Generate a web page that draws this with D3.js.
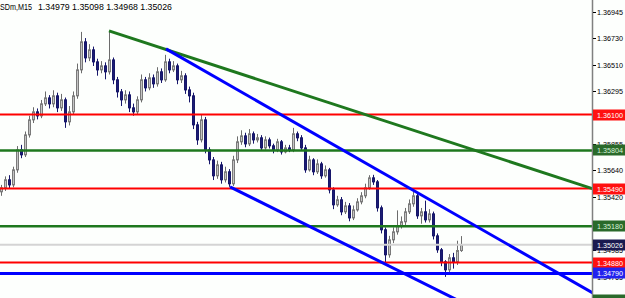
<!DOCTYPE html>
<html>
<head>
<meta charset="utf-8">
<script src="https://cdn.jsdelivr.net/npm/d3@7"></script>
<style>
  body { margin: 0; background: #fff; }
  svg { display: block; font-family: "Liberation Sans", Arial, sans-serif; }
</style>
</head>
<body>
<div id="chart"></div>
<script>
const width = 625,
  height = 298;
const plotRight = 592;

// header, last bar O H L C
const symbol = 'SDm,M15';
const lastQuote = ['1.34979', '1.35098', '1.34968', '1.35026'];

// M15 bars, left to right
const firstOpen = 1.35463;
const closes = [
  1.35496, 1.35562, 1.35520, 1.35644, 1.35809, 1.35768, 1.35932, 1.36056, 1.36122, 1.36089,
  1.36188, 1.36237, 1.36188, 1.36254, 1.36155, 1.36221, 1.36040, 1.36122, 1.36254, 1.36468,
  1.36699, 1.36567, 1.36633, 1.36534, 1.36468, 1.36501, 1.36452, 1.36550, 1.36386, 1.36287,
  1.36221, 1.36262, 1.36155, 1.36122, 1.36221, 1.36386, 1.36320, 1.36402, 1.36353, 1.36452,
  1.36386, 1.36534, 1.36468, 1.36501, 1.36386, 1.36419, 1.36303, 1.36254, 1.36015, 1.35891,
  1.36056, 1.35809, 1.35726, 1.35595, 1.35685, 1.35562, 1.35628, 1.35529, 1.35726, 1.35875,
  1.35924, 1.35858, 1.35941, 1.35891, 1.35908, 1.35825, 1.35891, 1.35842, 1.35809, 1.35875,
  1.35792, 1.35825, 1.35809, 1.35941, 1.35908, 1.35825, 1.35644, 1.35726, 1.35628, 1.35693,
  1.35595, 1.35644, 1.35479, 1.35356, 1.35397, 1.35298, 1.35347, 1.35248, 1.35314, 1.35380,
  1.35430, 1.35496, 1.35578, 1.35545, 1.35331, 1.35150, 1.34944, 1.35067, 1.35133, 1.35183,
  1.35216, 1.35298, 1.35364, 1.35430, 1.35265, 1.35298, 1.35232, 1.35281, 1.35100, 1.34985,
  1.34886, 1.34820, 1.34919, 1.34886, 1.34979, 1.35026
];
const highs = [
  1.35520, 1.35590, 1.35600, 1.35670, 1.35840, 1.35850, 1.35960, 1.36090, 1.36160, 1.36150,
  1.36220, 1.36290, 1.36260, 1.36300, 1.36280, 1.36270, 1.36240, 1.36170, 1.36290, 1.36520,
  1.36781, 1.36730, 1.36680, 1.36660, 1.36560, 1.36540, 1.36530, 1.36789, 1.36570, 1.36410,
  1.36310, 1.36300, 1.36290, 1.36190, 1.36250, 1.36430, 1.36410, 1.36440, 1.36430, 1.36490,
  1.36480, 1.36592, 1.36560, 1.36540, 1.36520, 1.36460, 1.36440, 1.36330, 1.36280, 1.36040,
  1.36100, 1.36080, 1.35830, 1.35750, 1.35720, 1.35710, 1.35670, 1.35650, 1.35760, 1.35920,
  1.35970, 1.35950, 1.35980, 1.35960, 1.35940, 1.35930, 1.35920, 1.35910, 1.35860, 1.35900,
  1.35890, 1.35850, 1.35850, 1.35990, 1.35960, 1.35930, 1.35850, 1.35760, 1.35740, 1.35730,
  1.35710, 1.35680, 1.35660, 1.35500, 1.35430, 1.35420, 1.35380, 1.35370, 1.35350, 1.35410,
  1.35460, 1.35530, 1.35600, 1.35603, 1.35560, 1.35350, 1.35170, 1.35100, 1.35170, 1.35310,
  1.35260, 1.35330, 1.35400, 1.35463, 1.35450, 1.35330, 1.35390, 1.35320, 1.35300, 1.35120,
  1.35000, 1.34900, 1.34950, 1.34960, 1.35060, 1.35098
];
const lows = [
  1.35430, 1.35470, 1.35490, 1.35500, 1.35620, 1.35740, 1.35750, 1.35910, 1.36030, 1.36060,
  1.36070, 1.36170, 1.36150, 1.36160, 1.36120, 1.36130, 1.35990, 1.36010, 1.36100, 1.36230,
  1.36440, 1.36530, 1.36540, 1.36500, 1.36420, 1.36440, 1.36390, 1.36430, 1.36350, 1.36240,
  1.36170, 1.36190, 1.36120, 1.36090, 1.36100, 1.36200, 1.36290, 1.36300, 1.36320, 1.36330,
  1.36360, 1.36370, 1.36440, 1.36450, 1.36350, 1.36360, 1.36270, 1.36200, 1.35980, 1.35850,
  1.35870, 1.35780, 1.35690, 1.35560, 1.35570, 1.35530, 1.35540, 1.35504, 1.35510, 1.35700,
  1.35850, 1.35830, 1.35840, 1.35860, 1.35870, 1.35800, 1.35810, 1.35820, 1.35780, 1.35790,
  1.35770, 1.35780, 1.35790, 1.35790, 1.35880, 1.35800, 1.35620, 1.35630, 1.35600, 1.35610,
  1.35570, 1.35580, 1.35450, 1.35320, 1.35340, 1.35270, 1.35280, 1.35220, 1.35230, 1.35300,
  1.35360, 1.35410, 1.35480, 1.35520, 1.35300, 1.35120, 1.34878, 1.34920, 1.35040, 1.35110,
  1.35160, 1.35190, 1.35280, 1.35340, 1.35240, 1.35200, 1.35210, 1.35210, 1.35070, 1.34960,
  1.34850, 1.34762, 1.34790, 1.34830, 1.34860, 1.34968
];
const opens = [firstOpen].concat(closes.slice(0, -1));

const priceTicks = [1.36945, 1.36730, 1.36510, 1.36295, 1.36079, 1.35855,
  1.35640, 1.35420, 1.35205, 1.34985, 1.34765];

// horizontal levels
const levelPrices = [1.36100, 1.35804, 1.35490, 1.35180, 1.34880, 1.34790, 1.34570];
const levelKinds = ['red', 'green', 'red', 'green', 'red', 'blue', 'green'];
const bidPrice = 1.35026;

// trend lines: [bar index, price] anchors, drawn as rays to the right
const trendLines = [
  { kind: 'green', a: [27, 1.36789], b: [147.75, 1.35490] },
  { kind: 'blue', a: [41.25, 1.36641], b: [147.75, 1.34633] },
  { kind: 'blue', a: [57.25, 1.35504], b: [113, 1.34589] },
];

const lineColor = { red: '#ff0000', green: '#1e781e', blue: '#0000ff' };
const lineWidth = { red: 2, green: 2.5, blue: 3 };
const boxColor = { red: '#ff1010', green: '#2a6a2a', blue: '#2222ee', bid: '#1a1a50' };

const svg = d3.select('#chart').append('svg')
  .attr('width', width)
  .attr('height', height);

svg.append('rect').attr('width', width).attr('height', height).attr('fill', '#fdfffd');

const nBars = (plotRight - 1) / 4;
const x = d3.scaleLinear().domain([0, nBars]).range([1, plotRight]);
const y = d3.scaleLinear().domain([1.34765, 1.36945]).range([276.5, 12]);

svg.append('clipPath').attr('id', 'plot')
  .append('rect').attr('width', plotRight).attr('height', height);

const plot = svg.append('g').attr('clip-path', 'url(#plot)');

// candles
const bars = d3.range(closes.length).map(i => ({
  i, o: opens[i], h: highs[i], l: lows[i], c: closes[i], up: closes[i] >= opens[i],
}));

const candle = plot.append('g').selectAll('g')
  .data(bars)
  .enter()
  .append('g');

candle.append('line')
  .attr('x1', d => Math.round(x(d.i)) + 0.5)
  .attr('x2', d => Math.round(x(d.i)) + 0.5)
  .attr('y1', d => y(d.h))
  .attr('y2', d => y(d.l))
  .attr('stroke', d => d.up ? '#6c6c6c' : '#16166a')
  .attr('stroke-width', 1);

candle.append('rect')
  .attr('x', d => Math.round(x(d.i)) - 0.5)
  .attr('width', 2)
  .attr('y', d => y(Math.max(d.o, d.c)))
  .attr('height', d => Math.max(1, Math.abs(y(d.o) - y(d.c))))
  .attr('fill', d => d.up ? '#c4c4c4' : '#1c1c74')
  .attr('stroke', d => d.up ? '#7a7a7a' : '#16166a')
  .attr('stroke-width', 1);

// bid line
plot.append('line')
  .attr('x1', 0).attr('x2', plotRight)
  .attr('y1', y(bidPrice)).attr('y2', y(bidPrice))
  .attr('stroke', '#d4d4d4')
  .attr('stroke-width', 2);

// levels
plot.append('g').selectAll('line')
  .data(levelPrices)
  .enter()
  .append('line')
  .attr('x1', 0).attr('x2', plotRight)
  .attr('y1', d => y(d)).attr('y2', d => y(d))
  .attr('stroke', (d, k) => lineColor[levelKinds[k]])
  .attr('stroke-width', (d, k) => lineWidth[levelKinds[k]]);

// trend rays
plot.append('g').selectAll('line')
  .data(trendLines)
  .enter()
  .append('line')
  .attr('x1', d => x(d.a[0]))
  .attr('y1', d => y(d.a[1]))
  .attr('x2', x(nBars + 10))
  .attr('y2', (d) => {
    const slope = (d.b[1] - d.a[1]) / (d.b[0] - d.a[0]);
    return y(d.a[1] + slope * (nBars + 10 - d.a[0]));
  })
  .attr('stroke', d => lineColor[d.kind])
  .attr('stroke-width', 3);

// price axis
svg.append('line')
  .attr('x1', plotRight + 0.5).attr('x2', plotRight + 0.5)
  .attr('y1', 0).attr('y2', height)
  .attr('stroke', '#808080')
  .attr('stroke-width', 1.5);

const ticks = svg.append('g').selectAll('g')
  .data(priceTicks)
  .enter()
  .append('g')
  .attr('transform', d => `translate(0,${Math.round(y(d)) + 0.5})`);

ticks.append('line')
  .attr('x1', plotRight + 1).attr('x2', plotRight + 4)
  .attr('stroke', '#000');

ticks.append('text')
  .attr('x', 597)
  .attr('dy', '0.35em')
  .attr('font-size', 8)
  .attr('textLength', 26)
  .attr('lengthAdjust', 'spacingAndGlyphs')
  .attr('fill', '#000')
  .text(d => d.toFixed(5));

// level price boxes
const boxes = levelPrices.map((p, k) => ({ p, kind: levelKinds[k] }))
  .concat([{ p: bidPrice, kind: 'bid' }]);

const box = svg.append('g').selectAll('g')
  .data(boxes)
  .enter()
  .append('g')
  .attr('transform', d => `translate(0,${Math.round(y(d.p))})`);

box.append('rect')
  .attr('x', plotRight + 1)
  .attr('y', -5.5)
  .attr('width', width - plotRight - 1)
  .attr('height', 11)
  .attr('fill', d => boxColor[d.kind]);

box.append('text')
  .attr('x', 597)
  .attr('dy', '0.35em')
  .attr('font-size', 8)
  .attr('textLength', 26)
  .attr('lengthAdjust', 'spacingAndGlyphs')
  .attr('fill', d => d.kind === 'green' ? '#d8f2d8' : '#fff')
  .text(d => d.p.toFixed(5));

// header
svg.append('text')
  .attr('x', 0).attr('y', 10)
  .attr('font-size', 8.5)
  .attr('textLength', 32)
  .attr('lengthAdjust', 'spacingAndGlyphs')
  .text(symbol);

svg.append('text')
  .attr('x', 38).attr('y', 10)
  .attr('font-size', 8.5)
  .attr('textLength', 134)
  .attr('lengthAdjust', 'spacingAndGlyphs')
  .text(lastQuote.join(' '));
</script>
</body>
</html>
